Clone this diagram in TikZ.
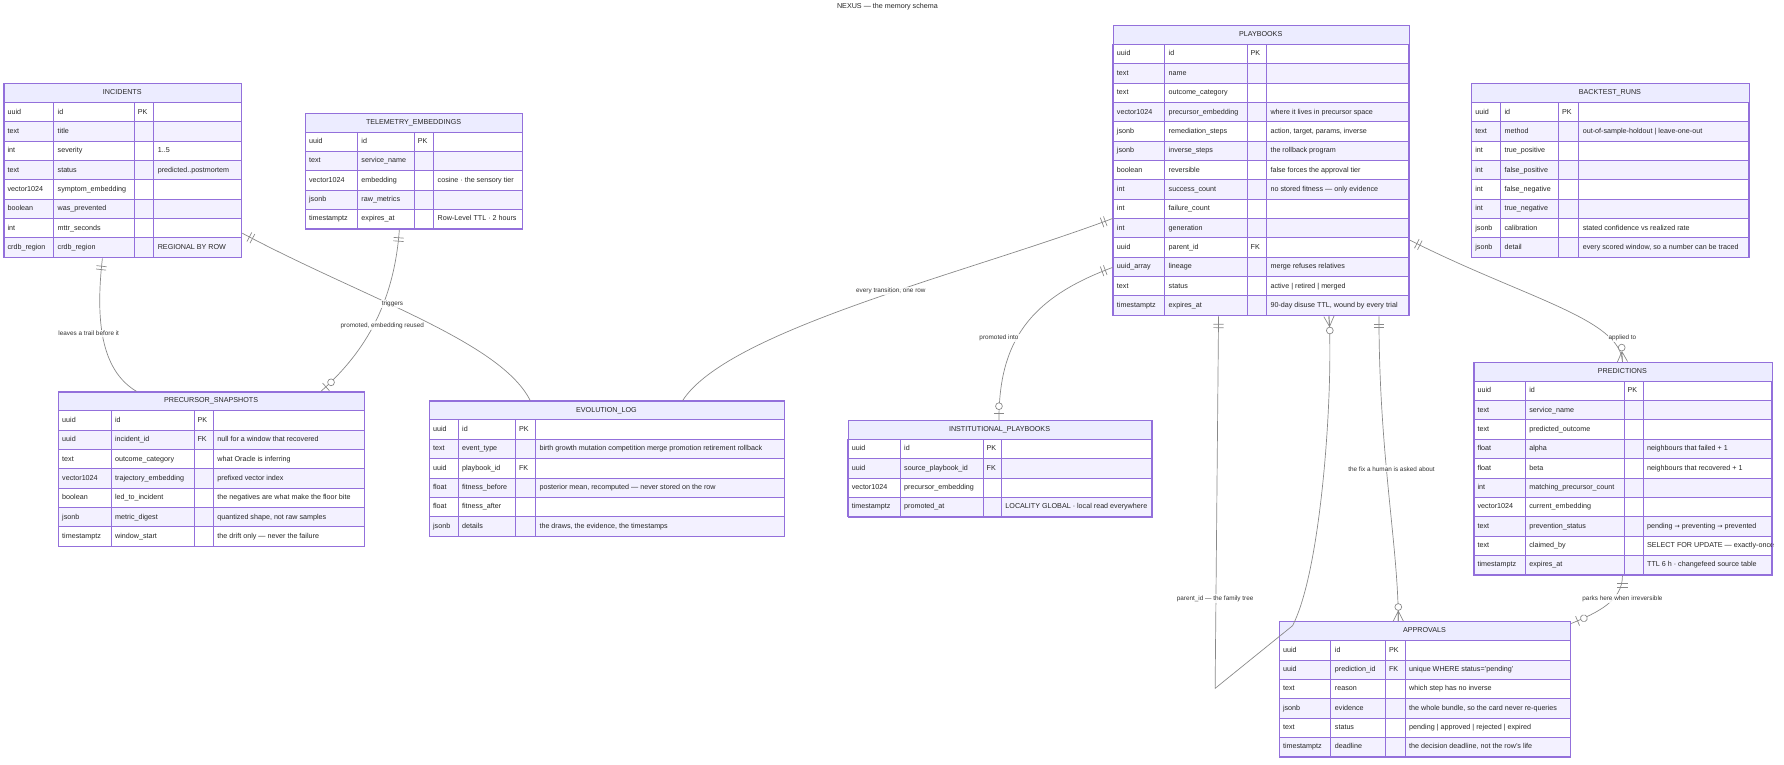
\documentclass[tikz,border=0pt]{standalone}
\usepackage{fontspec}
\setmainfont{Liberation Sans}
\newfontfamily\symf{DejaVu Sans}
\usetikzlibrary{decorations.markings}
\definecolor{purp}{HTML}{9370DB}
\definecolor{hdr}{HTML}{ECECFF}
\definecolor{alt}{HTML}{F3F1FF}
\definecolor{lnk}{HTML}{888888}
\newcommand\ar{{\symf\fontsize{5.5}{7}\selectfont →}}
\tikzset{
 txt/.style={font=\fontsize{6.3}{7.5}\selectfont, inner sep=0pt, text height=4.8pt, text depth=1.4pt, text=black!85},
 lbl/.style={font=\fontsize{5.6}{7}\selectfont, fill=white, fill opacity=.85, text opacity=1, inner sep=1pt, text=black!80},
 conn/.style={draw=lnk, line width=.6pt},
 Sone/.style={postaction={decorate,decoration={markings,mark=at position 0 with {\draw[lnk,line width=.6pt] (7pt,-4.5pt)--(7pt,4.5pt) (10pt,-4.5pt)--(10pt,4.5pt);}}}},
 Emany/.style={postaction={decorate,decoration={markings,mark=at position 1 with {\draw[lnk,line width=.6pt] (-9pt,0)--(0,4.5pt) (-9pt,0)--(0,-4.5pt) (-9pt,0)--(0,0); \draw[lnk,line width=.6pt,fill=white] (-12.5pt,0) circle (3pt);}}}},
 Eone/.style={postaction={decorate,decoration={markings,mark=at position 1 with {\draw[lnk,line width=.6pt] (-6pt,-4.5pt)--(-6pt,4.5pt); \draw[lnk,line width=.6pt,fill=white] (-12pt,0) circle (3pt);}}}},
}
\newcommand\ertable[9]{%
 \fill[hdr] (#2,#3) rectangle (#7,#3+17);
 \node[txt] at ({(#2+#7)/2},#3+8.5) {#9};
 \foreach[count=\i] \ty/\nm/\ky/\cm in \tblrows {
  \pgfmathsetmacro\ya{#3+17*\i}\pgfmathsetmacro\yb{\ya+17}\pgfmathsetmacro\ym{\ya+8.5}
  \ifodd\i \def\rc{white}\else\def\rc{alt}\fi
  \filldraw[fill=\rc,draw=purp,line width=.6pt] (#2,\ya) rectangle (#7,\yb);
  \draw[purp,line width=.6pt] (#4,\ya)--(#4,\yb) (#5,\ya)--(#5,\yb) (#6,\ya)--(#6,\yb);
  \node[txt,anchor=west] at (#2+3.5,\ym) {\ty};
  \node[txt,anchor=west] at (#4+3.5,\ym) {\nm};
  \node[txt,anchor=west] at (#5+3,\ym) {\ky};
  \node[txt,anchor=west] at (#6+3.5,\ym) {\cm};
 }
 \node[draw=purp,line width=1pt,inner sep=0,anchor=north west,minimum width={(#7-#2)*1pt},minimum height={(#8+1)*17pt}] (#1) at (#2,#3) {};
}
\begin{document}
\begin{tikzpicture}[x=1pt,y=-1pt]
\useasboundingbox (0,0) rectangle (1568,672);
\node[txt] (title) at (780,6) {NEXUS — the memory schema};

\def\tblrows{uuid/id/PK/{}, text/title//{}, int/severity//{1..5}, text/status//{predicted..postmortem}, vector1024/symptom\_embedding//{}, boolean/was\_prevented//{}, int/mttr\_seconds//{}, crdb\_region/crdb\_region//REGIONAL BY ROW}
\ertable{incidents}{3}{73}{47}{118}{135}{212}{8}{INCIDENTS}

\def\tblrows{uuid/id/PK/{}, text/service\_name//{}, vector1024/embedding//{cosine · the sensory tier}, jsonb/raw\_metrics//{}, timestamptz/expires\_at//{Row-Level TTL · 2 hours}}
\ertable{telemetry}{268}{99}{314}{364}{381}{459}{5}{TELEMETRY\_EMBEDDINGS}

\def\tblrows{uuid/id/PK/{}, text/name//{}, text/outcome\_category//{}, vector1024/precursor\_embedding//{where it lives in precursor space}, {jsonb/remediation\_steps//{action, target, params, inverse}}, jsonb/inverse\_steps//{the rollback program}, boolean/reversible//{false forces the approval tier}, int/success\_count//{no stored fitness — only evidence}, int/failure\_count//{}, int/generation//{}, uuid/parent\_id/FK/{}, uuid\_array/lineage//{merge refuses relatives}, text/status//{active | retired | merged}, {timestamptz/expires\_at//{90-day disuse TTL, wound by every trial}}}
\ertable{playbooks}{978}{22}{1023.5}{1096}{1113}{1238}{14}{PLAYBOOKS}

\def\tblrows{uuid/id/PK/{}, text/method//{out-of-sample-holdout | leave-one-out}, int/true\_positive//{}, int/false\_positive//{}, int/false\_negative//{}, int/true\_negative//{}, jsonb/calibration//{stated confidence vs realized rate}, {jsonb/detail//{every scored window, so a number can be traced}}}
\ertable{backtest}{1293}{73}{1318.7}{1369.7}{1387.5}{1537}{8}{BACKTEST\_RUNS}

\def\tblrows{uuid/id/PK/{}, uuid/incident\_id/FK/{null for a window that recovered}, text/outcome\_category//{what Oracle is inferring}, vector1024/trajectory\_embedding//{prefixed vector index}, boolean/led\_to\_incident//{the negatives are what make the floor bite}, {jsonb/metric\_digest//{quantized shape, not raw samples}}, timestamptz/window\_start//{the drift only — never the failure}}
\ertable{precursor}{51}{344}{97.5}{170.4}{187.4}{320}{7}{PRECURSOR\_SNAPSHOTS}

\def\tblrows{uuid/id/PK/{}, text/event\_type//{birth growth mutation competition merge promotion retirement rollback}, uuid/playbook\_id/FK/{}, {float/fitness\_before//{posterior mean, recomputed — never stored on the row}}, float/fitness\_after//{}, {jsonb/details//{the draws, the evidence, the timestamps}}}
\ertable{evolution}{377}{352}{402.5}{453}{470.5}{689}{6}{EVOLUTION\_LOG}

\def\tblrows{uuid/id/PK/{}, uuid/source\_playbook\_id/FK/{}, vector1024/precursor\_embedding//{}, timestamptz/promoted\_at//{LOCALITY GLOBAL · local read everywhere}}
\ertable{institutional}{745}{369}{791}{864}{880}{1012}{4}{INSTITUTIONAL\_PLAYBOOKS}

\def\tblrows{uuid/id/PK/{}, text/service\_name//{}, text/predicted\_outcome//{}, float/alpha//{neighbours that failed + 1}, float/beta//{neighbours that recovered + 1}, int/matching\_precursor\_count//{}, vector1024/current\_embedding//{}, text/prevention\_status//{pending \ar{} preventing \ar{} prevented}, text/claimed\_by//{SELECT FOR UPDATE — exactly-once}, timestamptz/expires\_at//{TTL 6 h · changefeed source table}}
\ertable{predictions}{1295}{318}{1340.5}{1427.3}{1444}{1557}{10}{PREDICTIONS}

\def\tblrows{uuid/id/PK/{}, uuid/prediction\_id/FK/{unique WHERE status='pending'}, text/reason//{which step has no inverse}, {jsonb/evidence//{the whole bundle, so the card never re-queries}}, text/status//{pending | approved | rejected | expired}, {timestamptz/deadline//{the decision deadline, not the row's life}}}
\ertable{approvals}{1124}{546}{1169.6}{1217.7}{1234.9}{1380}{6}{APPROVALS}

% connectors
\path[conn,Sone,Emany] ([xshift=87pt]incidents.south west) .. controls (84,280) and (88,325) .. ([xshift=69pt]precursor.north west);
\node[lbl] (l1) at (78,293) {leaves a trail before it};

\path[conn,Sone,Eone] ([xshift=83pt]telemetry.south west) .. controls (346,270) and (318,312) .. ([xshift=231pt]precursor.north west);
\node[lbl] (l2) at (336,286) {promoted, embedding reused};

\path[conn,Sone,Emany] ([yshift=-132pt]incidents.north east) .. controls (320,262) and (440,300) .. ([xshift=89pt]evolution.north west);
\node[lbl] (l3) at (345,267) {triggers};

\path[conn,Sone,Emany] ([yshift=-170pt]playbooks.north west) .. controls (850,240) and (640,290) .. ([xshift=223pt]evolution.north west);
\node[lbl] (l4) at (783,256) {every transition, one row};

\path[conn,Sone,Eone] ([yshift=-213pt]playbooks.north west) .. controls (905,262) and (878,300) .. ([xshift=133pt]institutional.north west);
\node[lbl] (l5) at (878,297) {promoted into};

\path[conn,Sone,Emany] ([yshift=-189pt]playbooks.north east) .. controls (1340,262) and (1424,280) .. ([xshift=131pt]predictions.north west);
\node[lbl] (l6) at (1426,297) {applied to};

\coordinate (loopA) at (1068,605);
\coordinate (loopB) at (1136,550);
\path[conn,Sone,Emany] ([xshift=93pt]playbooks.south west) -- (loopA) -- (loopB) .. controls (1162,500) and (1172,340) .. ([xshift=190pt]playbooks.south west);
\node[lbl] (l7) at (1068,526) {parent\_id — the family tree};

\path[conn,Sone,Emany] ([xshift=234pt]playbooks.south west) .. controls (1212,400) and (1229,480) .. ([xshift=105pt]approvals.north west);
\node[lbl] (l8) at (1223,412) {the fix a human is asked about};

\path[conn,Sone,Eone] ([xshift=131pt]predictions.south west) .. controls (1426,528) and (1405,538) .. ([yshift=-2pt]approvals.north east);
\node[lbl] (l9) at (1426,526) {parks here when irreversible};
\end{tikzpicture}
\end{document}
